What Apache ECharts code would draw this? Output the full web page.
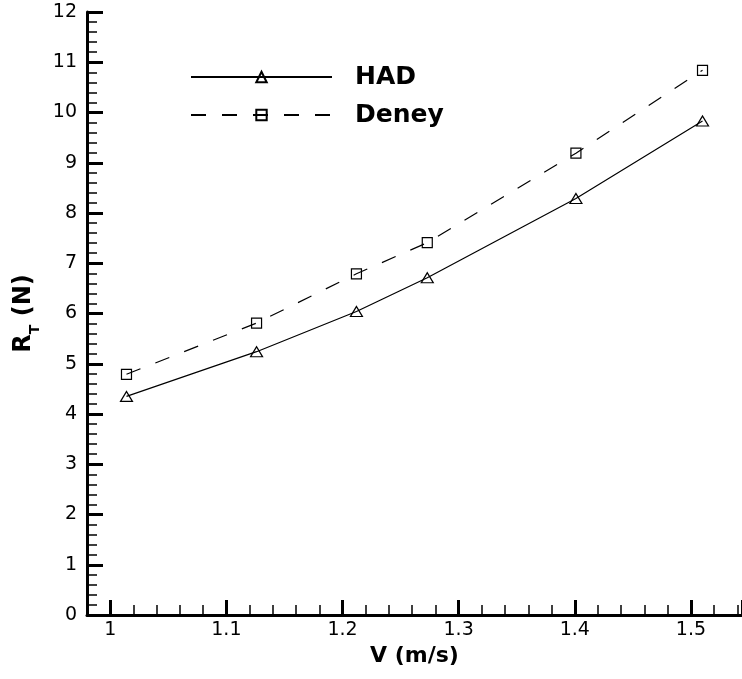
<!DOCTYPE html>
<html><head><meta charset="utf-8">
<script src="https://cdn.jsdelivr.net/npm/echarts@6/dist/echarts.min.js"></script>
<style>html,body{margin:0;padding:0;background:#fff}#c{width:742px;height:679px}</style>
</head><body><div id="c"></div>
<script>
// ---- data ----
const velocity = [1.014, 1.126, 1.212, 1.273, 1.401, 1.510];
const hadValues = [4.35, 5.24, 6.04, 6.71, 8.29, 9.83];
const deneyValues = [4.79, 5.81, 6.79, 7.41, 9.19, 10.84];
const seriesNames = ['HAD', 'Deney'];
const xAxisTitle = 'V (m/s)';
const yAxisTitle = '{a|R}{b|T}{a| (N)}';

const FONT = 'DejaVu Sans';
function pairs(xs, ys) { return xs.map((x, i) => [x, ys[i]]); }

const chart = echarts.init(document.getElementById('c'), null, { renderer: 'canvas' });
const option = {
  animation: false,
  backgroundColor: '#fff',
  grid: { left: 87, right: 0, top: 12, bottom: 64, containLabel: false, outerBoundsMode: 'none' },
  legend: {
    orient: 'vertical', left: 190, top: 64, padding: 0,
    itemWidth: 141, itemHeight: 13, itemGap: 12,
    selectedMode: false,
    data: seriesNames,
    textStyle: { fontFamily: FONT, fontWeight: 'bold', fontSize: 25, color: '#000', lineHeight: 26, padding: [0, 0, 0, 18] }
  },
  xAxis: {
    type: 'value', min: 0.98, max: 1.544, minInterval: 0.1, maxInterval: 0.1, splitNumber: 5,
    axisLine: { show: true, onZero: false, lineStyle: { color: '#000', width: 3 } },
    axisTick: { show: true, inside: true, length: 15, lineStyle: { color: '#000', width: 3 } },
    minorTick: { show: true, splitNumber: 5, length: 10, lineStyle: { color: '#000', width: 1.5 } },
    splitLine: { show: false }, minorSplitLine: { show: false },
    axisLabel: {
      fontFamily: FONT, fontSize: 19, color: '#000', margin: 6, showMinLabel: false, showMaxLabel: false,
      formatter: function (v) { const r = Math.round(v * 10) / 10; return Math.abs(v - r) > 1e-6 ? '' : String(r); }
    },
    name: xAxisTitle, nameLocation: 'middle', nameGap: 28,
    nameTextStyle: { fontFamily: FONT, fontWeight: 'bold', fontSize: 22, color: '#000' }
  },
  yAxis: {
    type: 'value', min: 0, max: 12, interval: 1,
    axisLine: { show: true, onZero: false, lineStyle: { color: '#000', width: 3 } },
    axisTick: { show: true, inside: true, length: 16, lineStyle: { color: '#000', width: 3 } },
    minorTick: { show: true, splitNumber: 5, length: 10, lineStyle: { color: '#000', width: 1.5 } },
    splitLine: { show: false }, minorSplitLine: { show: false },
    axisLabel: { fontFamily: FONT, fontSize: 19, color: '#000', margin: 10 },
    name: yAxisTitle, nameLocation: 'middle', nameGap: 45, nameRotate: 90,
    nameTextStyle: {
      rich: {
        a: { fontFamily: FONT, fontWeight: 'bold', fontSize: 24, color: '#000', lineHeight: 36, verticalAlign: 'middle' },
        b: { fontFamily: FONT, fontWeight: 'bold', fontSize: 14, color: '#000', lineHeight: 15, verticalAlign: 'bottom' }
      }
    }
  },
  series: [
    {
      name: seriesNames[0], type: 'line', data: pairs(velocity, hadValues),
      symbol: 'triangle', symbolSize: [12, 10], showSymbol: true,
      lineStyle: { color: '#000', width: 1.2, type: 'solid' },
      itemStyle: { color: 'rgba(0,0,0,0)', borderColor: '#000', borderWidth: 1.2 },
      emphasis: { disabled: true }
    },
    {
      name: seriesNames[1], type: 'line', data: pairs(velocity, deneyValues),
      symbol: 'rect', symbolSize: 10, showSymbol: true,
      lineStyle: { color: '#000', width: 1.2, type: [15, 16] },
      itemStyle: { color: 'rgba(0,0,0,0)', borderColor: '#000', borderWidth: 1.2 },
      emphasis: { disabled: true }
    }
  ]
};
chart.setOption(option);
</script>
</body></html>
